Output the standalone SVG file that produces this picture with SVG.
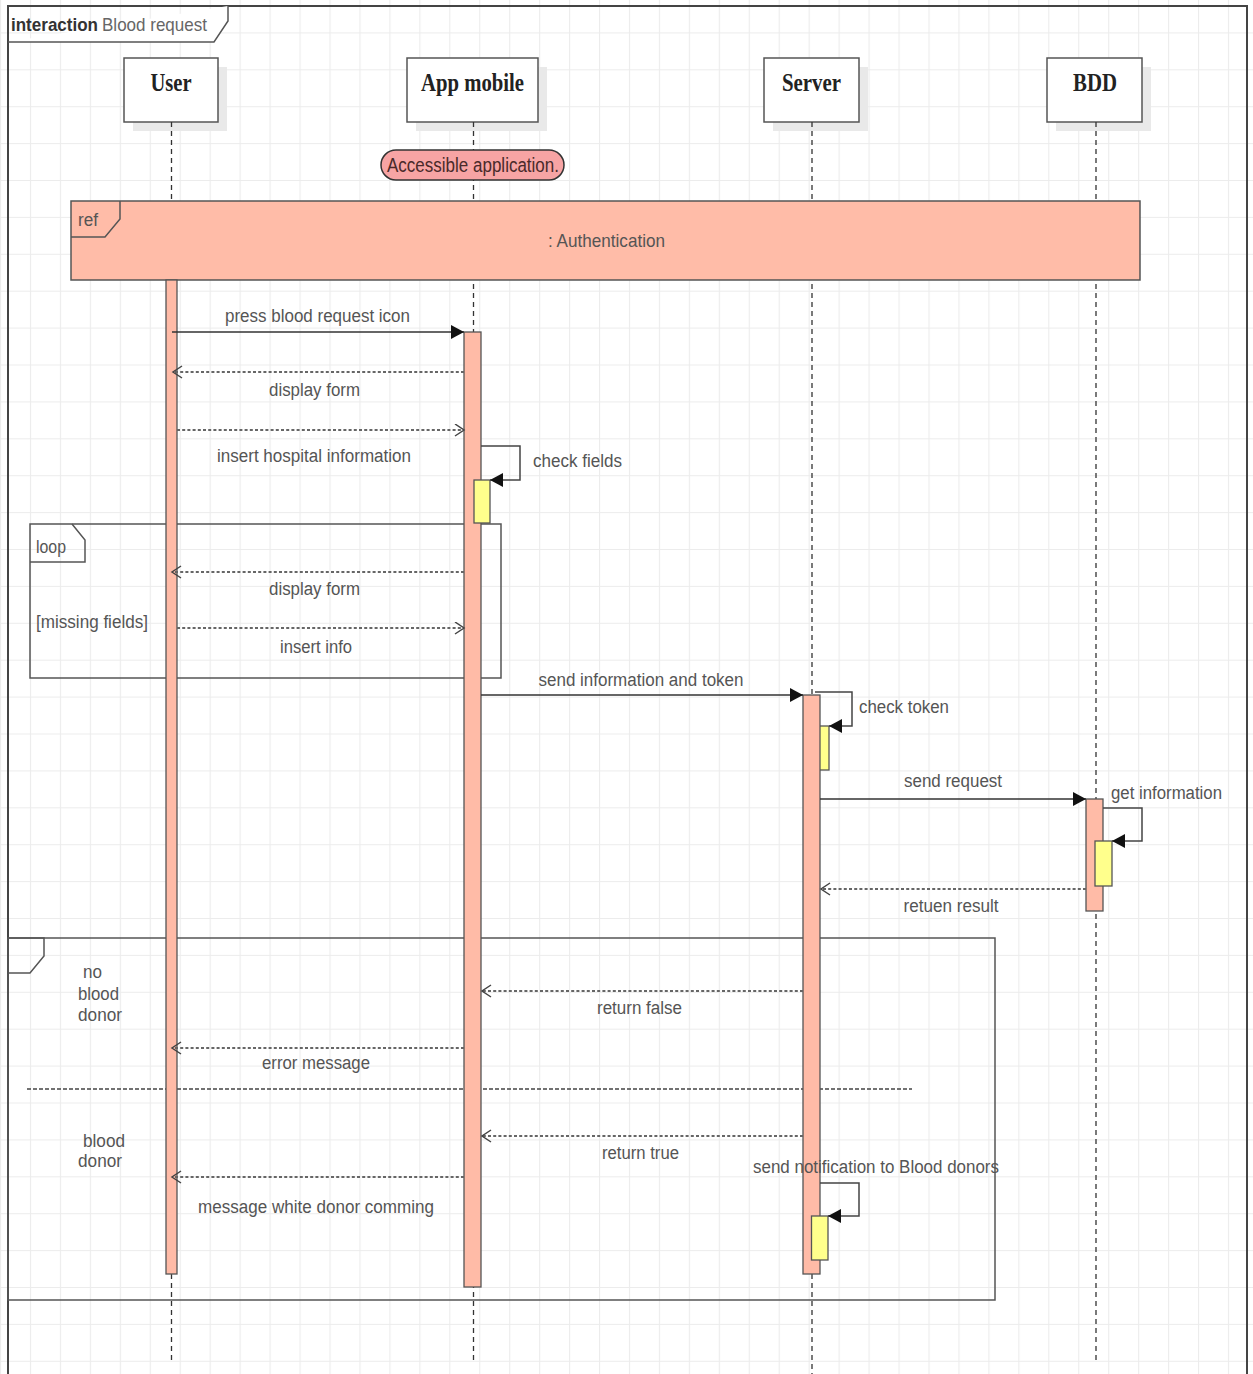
<svg xmlns="http://www.w3.org/2000/svg" width="1253" height="1374" viewBox="0 0 1253 1374">
<style>
.lbl{font-family:"Liberation Sans",Arial,sans-serif;font-size:18px;fill:#555}
.head{font-family:"Liberation Serif","Times New Roman",serif;font-size:25px;font-weight:bold;fill:#222}
.hbox{fill:#fff;stroke:#555;stroke-width:1.5}
.shadow{fill:#e9e9e9}
.life{stroke:#333;stroke-width:1.3;stroke-dasharray:5 4;fill:none}
.bar{fill:#ffbba7;stroke:#555;stroke-width:1.3}
.ybar{fill:#ffff8c;stroke:#555;stroke-width:1.3}
.frag{fill:none;stroke:#555;stroke-width:1.5}
.msg{stroke:#333;stroke-width:1.5;fill:none}
.ret{stroke:#666;stroke-width:1.8;stroke-dasharray:3 2.2;fill:none}
.self{stroke:#444;stroke-width:1.5;fill:none}
</style>
<defs>
<pattern id="grid" patternUnits="userSpaceOnUse" x="0" y="32.4" width="29.95" height="36.9">
<path d="M0,0.5 H29.95 M0.5,0 V36.9" stroke="#ececec" stroke-width="1.2" fill="none"/>
</pattern>
<marker id="filled" markerUnits="userSpaceOnUse" markerWidth="15" markerHeight="16" refX="13" refY="7" orient="auto">
<path d="M0,0 L13,7 L0,14 z" fill="#111"/>
</marker>
<marker id="open" markerUnits="userSpaceOnUse" markerWidth="12" markerHeight="14" refX="10" refY="6.5" orient="auto">
<path d="M1,0.5 L10,6.5 L1,12.5" fill="none" stroke="#444" stroke-width="1.5"/>
</marker>
</defs>
<rect x="0" y="0" width="1253" height="1374" fill="#fff"/>
<rect x="0" y="0" width="1253" height="1374" fill="url(#grid)"/>

<g id="frame">
<path d="M8,1374 V6 H1247 V1374" fill="none" stroke="#444" stroke-width="2"/>
<path d="M8,42 H214 L228,21 V6" fill="#fff" stroke="#555" stroke-width="1.5"/>
<text x="11" y="31" class="lbl" style="font-size:19px;font-weight:bold;fill:#333" textLength="87" lengthAdjust="spacingAndGlyphs">interaction</text>
<text x="102" y="31" class="lbl" style="font-size:19px;fill:#666" textLength="105" lengthAdjust="spacingAndGlyphs">Blood request</text>
</g>

<g id="loop-fragment">
<rect x="30" y="524" width="471" height="154" class="frag"/>
<path d="M30,562 H85 V540 L72,524" class="frag"/>
<text x="36" y="553" class="lbl" textLength="30" lengthAdjust="spacingAndGlyphs">loop</text>
<text x="36" y="628" class="lbl" textLength="112" lengthAdjust="spacingAndGlyphs">[missing fields]</text>
</g>

<g id="alt-fragment">
<rect x="8" y="938" width="987" height="362" class="frag"/>
<path d="M8,956 M8,938 H44 V956 L30,973 H8" class="frag"/>
<line x1="27" y1="1089" x2="912" y2="1089" stroke="#444" stroke-width="1.3" stroke-dasharray="4 2"/>
<text x="83" y="978" class="lbl" textLength="19" lengthAdjust="spacingAndGlyphs">no</text>
<text x="78" y="1000" class="lbl" textLength="41" lengthAdjust="spacingAndGlyphs">blood</text>
<text x="78" y="1021" class="lbl" textLength="44" lengthAdjust="spacingAndGlyphs">donor</text>
<text x="83" y="1147" class="lbl" textLength="42" lengthAdjust="spacingAndGlyphs">blood</text>
<text x="78" y="1167" class="lbl" textLength="44" lengthAdjust="spacingAndGlyphs">donor</text>
</g>

<g id="user">
<rect x="133" y="67" width="94" height="64" class="shadow"/>
<rect x="124" y="58" width="94" height="64" class="hbox"/>
<text x="150.5" y="91" class="head" textLength="41" lengthAdjust="spacingAndGlyphs">User</text>
<line x1="171.5" y1="122" x2="171.5" y2="1360" class="life"/>
</g>

<g id="app-mobile">
<rect x="416" y="67" width="131" height="64" class="shadow"/>
<rect x="407" y="58" width="131" height="64" class="hbox"/>
<text x="421" y="91" class="head" textLength="103" lengthAdjust="spacingAndGlyphs">App mobile</text>
<line x1="473.5" y1="122" x2="473.5" y2="1360" class="life"/>
</g>

<g id="server">
<rect x="773" y="67" width="95" height="64" class="shadow"/>
<rect x="764" y="58" width="95" height="64" class="hbox"/>
<text x="782" y="91" class="head" textLength="59" lengthAdjust="spacingAndGlyphs">Server</text>
<line x1="812" y1="122" x2="812" y2="1374" class="life"/>
</g>

<g id="bdd">
<rect x="1056" y="67" width="95" height="64" class="shadow"/>
<rect x="1047" y="58" width="95" height="64" class="hbox"/>
<text x="1073" y="91" class="head" textLength="44" lengthAdjust="spacingAndGlyphs">BDD</text>
<line x1="1096" y1="122" x2="1096" y2="1360" class="life"/>
</g>

<g id="state-accessible">
<rect x="381" y="150" width="183" height="30" rx="15" ry="15" fill="#f7a4a4" stroke="#333" stroke-width="1.5"/>
<text x="387" y="172" class="lbl" style="font-size:20px;fill:#4a2a2a" textLength="172" lengthAdjust="spacingAndGlyphs">Accessible application.</text>
</g>

<g id="ref-authentication">
<rect x="71" y="201" width="1069" height="79" fill="#ffbca8" stroke="#555" stroke-width="1.5"/>
<path d="M71,237 H105 L120,219 V201" fill="none" stroke="#555" stroke-width="1.5"/>
<text x="78" y="226" class="lbl" textLength="20" lengthAdjust="spacingAndGlyphs">ref</text>
<text x="548" y="247" class="lbl" style="font-size:19px" textLength="117" lengthAdjust="spacingAndGlyphs">: Authentication</text>
</g>

<g id="activations">
<rect x="166" y="280" width="11" height="994" class="bar"/>
<rect x="464" y="332" width="17" height="955" class="bar"/>
<rect x="474" y="480" width="16" height="43" class="ybar"/>
<rect x="812" y="726" width="17" height="44" class="ybar"/>
<rect x="803" y="695" width="17" height="579" class="bar"/>
<rect x="811.5" y="1216" width="16.5" height="44" class="ybar"/>
<rect x="1086" y="799" width="17" height="112" class="bar"/>
<rect x="1095" y="841" width="17" height="45" class="ybar"/>
</g>

<g id="connectors">
<line x1="172" y1="332" x2="464" y2="332" class="msg" marker-end="url(#filled)"/>
<text x="225" y="322" class="lbl" textLength="185" lengthAdjust="spacingAndGlyphs">press blood request icon</text>

<line x1="464" y1="372" x2="173" y2="372" class="ret" marker-end="url(#open)"/>
<text x="269" y="396" class="lbl" textLength="91" lengthAdjust="spacingAndGlyphs">display form</text>

<line x1="177" y1="430" x2="464" y2="430" class="ret" marker-end="url(#open)"/>
<text x="217" y="462" class="lbl" textLength="194" lengthAdjust="spacingAndGlyphs">insert hospital information</text>

<path d="M481,446 H520 V480 H490" class="self" marker-end="url(#filled)"/>
<text x="533" y="467" class="lbl" textLength="89" lengthAdjust="spacingAndGlyphs">check fields</text>

<line x1="464" y1="572" x2="172" y2="572" class="ret" marker-end="url(#open)"/>
<text x="269" y="595" class="lbl" textLength="91" lengthAdjust="spacingAndGlyphs">display form</text>

<line x1="177" y1="628" x2="464" y2="628" class="ret" marker-end="url(#open)"/>
<text x="280" y="653" class="lbl" textLength="72" lengthAdjust="spacingAndGlyphs">insert info</text>

<line x1="481" y1="695" x2="803" y2="695" class="msg" marker-end="url(#filled)"/>
<text x="538.5" y="686" class="lbl" textLength="205" lengthAdjust="spacingAndGlyphs">send information and token</text>

<path d="M815,692 H852 V726 H829" class="self" marker-end="url(#filled)"/>
<text x="859" y="713" class="lbl" textLength="90" lengthAdjust="spacingAndGlyphs">check token</text>

<line x1="820" y1="799" x2="1086" y2="799" class="msg" marker-end="url(#filled)"/>
<text x="904" y="787" class="lbl" textLength="98" lengthAdjust="spacingAndGlyphs">send request</text>

<path d="M1103,808 H1142 V841 H1112" class="self" marker-end="url(#filled)"/>
<text x="1111" y="799" class="lbl" textLength="111" lengthAdjust="spacingAndGlyphs">get information</text>

<line x1="1086" y1="889" x2="821" y2="889" class="ret" marker-end="url(#open)"/>
<text x="903.5" y="912" class="lbl" textLength="95" lengthAdjust="spacingAndGlyphs">retuen result</text>

<line x1="803" y1="991" x2="482" y2="991" class="ret" marker-end="url(#open)"/>
<text x="597" y="1014" class="lbl" textLength="85" lengthAdjust="spacingAndGlyphs">return false</text>

<line x1="464" y1="1048" x2="172" y2="1048" class="ret" marker-end="url(#open)"/>
<text x="262" y="1069" class="lbl" textLength="108" lengthAdjust="spacingAndGlyphs">error message</text>

<line x1="803" y1="1136" x2="482" y2="1136" class="ret" marker-end="url(#open)"/>
<text x="602" y="1159" class="lbl" textLength="77" lengthAdjust="spacingAndGlyphs">return true</text>

<line x1="464" y1="1177" x2="172" y2="1177" class="ret" marker-end="url(#open)"/>
<text x="198" y="1213" class="lbl" textLength="236" lengthAdjust="spacingAndGlyphs">message white donor comming</text>

<text x="753" y="1173" class="lbl" textLength="246" lengthAdjust="spacingAndGlyphs">send notification to Blood donors</text>
<path d="M820,1183 H859 V1216 H828" class="self" marker-end="url(#filled)"/>
</g>
</svg>
